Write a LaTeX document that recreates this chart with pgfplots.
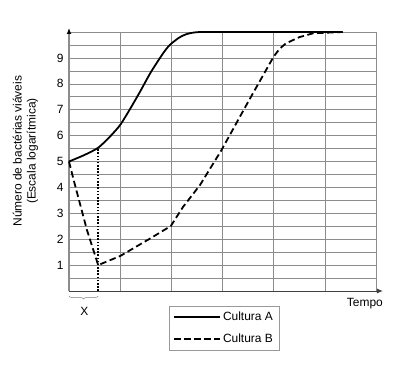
\documentclass[border=0pt]{standalone}
\usepackage{pgfplots}
\pgfplotsset{compat=1.18}
\usepackage{fontspec}
\setmainfont{Liberation Sans}
\usetikzlibrary{arrows.meta,decorations.pathreplacing}
\begin{document}
\begin{tikzpicture}[font=\fontsize{12}{14}\selectfont]
\path[use as bounding box] (-69bp,-79bp) rectangle (326bp,291bp);
\begin{axis}[
  at={(0,0)}, anchor=south west,
  scale only axis, width=307bp, height=259bp,
  xmin=0, xmax=6, ymin=0, ymax=10,
  axis lines=left,
  x axis line style={black!75, line width=1pt, -{Latex[length=6bp,width=5bp]}, shorten >=-7bp},
  y axis line style={black!45, line width=1.4pt, -{Latex[length=6bp,width=5bp,black]}, shorten >=-4bp},
  xtick={1,...,6}, xticklabels={},
  ytick={1,...,10}, yticklabels={1,2,3,4,5,6,7,8,9,{}},
  minor ytick={0.5,1.5,...,9.5},
  major tick length=0pt, minor tick length=0pt,
  grid=both,
  major grid style={black!45, line width=0.6pt},
  minor grid style={black!45, line width=0.6pt},
  /pgf/number format/assume math mode=true,
  ticklabel style={font=\fontsize{12}{14}\selectfont},
  yticklabel style={xshift=-2bp},
  ylabel={Número de bactérias viáveis\\(Escala logarítmica)},
  ylabel style={align=center, at={(ticklabel cs:0.54,12bp)}, font=\fontsize{12}{14}\selectfont},
  legend style={at={(0.326,-0.058)}, anchor=north west, draw=black!40,
    font=\fontsize{12}{14}\selectfont, row sep=8pt, inner sep=4pt,
    cells={anchor=west}},
  legend image code/.code={\draw[#1] (0bp,0bp) -- (46bp,0bp);},
  clip=false,
]
\addplot[black, line width=1.8pt, smooth, tension=0.4] coordinates {
 (0,5) (0.3,5.25) (0.57,5.53) (0.8,5.96) (1.0,6.41) (1.2,7.05) (1.39,7.7)
 (1.6,8.45) (1.84,9.18) (1.97,9.5) (2.15,9.78) (2.3,9.92) (2.56,10) (3.5,10) (5.35,10)};
\addlegendentry{Cultura A}
\addplot[black, line width=1.8pt, dash pattern=on 6.5bp off 3.5bp] coordinates {
 (0,5) (0.1,4.22) (0.35,2.36) (0.57,1) (1.0,1.35) (1.58,2.02) (1.99,2.51)
 (2.23,3.25) (2.56,4.09) (2.98,5.44) (3.52,7.37) (4.0,9.05) (4.12,9.36) (4.24,9.56)
 (4.5,9.8) (4.77,9.95) (5.35,10)};
\addlegendentry{Cultura B}
\addplot[black, line width=1.6pt, dash pattern=on 1.6pt off 1.6pt, forget plot] coordinates {(0.57,0) (0.57,5.53)};
\draw[black!50, line width=0.5pt, decorate, decoration={brace, mirror, amplitude=3bp}]
  (axis cs:0,0) ++(0,-5bp) -- ([yshift=-5bp]axis cs:0.57,0);
\node at ([yshift=-20bp]axis cs:0.3,0) {X};
\node[anchor=north east, inner sep=0pt] at ([xshift=7bp,yshift=-7bp]rel axis cs:1,0) {Tempo};
\end{axis}
\end{tikzpicture}
\end{document}
